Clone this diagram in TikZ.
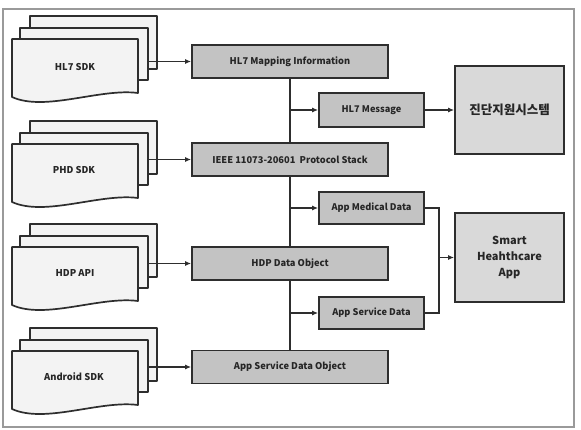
\documentclass[tikz,border=0pt]{standalone}
\usepackage{fontspec}
\setmainfont{Noto Sans CJK KR}
\usetikzlibrary{arrows.meta}
\definecolor{midfill}{HTML}{C3C3C3}
\definecolor{rightfill}{HTML}{D9D9D9}
\definecolor{docfill}{HTML}{F3F3F3}
\definecolor{edge}{HTML}{2E2E2E}
\definecolor{txt}{HTML}{262626}
\definecolor{frame}{HTML}{9A9A9A}
\newcommand\docsheets[1]{%
  \draw[sheet] (30,#1) rectangle (157,#1+53);
  \draw[sheet] (20,#1+12) rectangle (148,#1+64);
  \draw[sheet] (12,#1+23) -- (138,#1+23) -- (138,#1+77)
     .. controls (100,#1+72) and (45,#1+96) .. (12,#1+81) -- cycle;
}
\begin{document}
\begin{tikzpicture}[x=1pt,y=-1pt,
  sheet/.style={draw=edge,line width=1.7pt,fill=docfill,line join=round},
  doctext/.style={text=txt,font=\fontsize{9.4}{11}\selectfont\bfseries},
  midbox/.style={draw=edge,line width=1.7pt,fill=midfill,minimum width=196pt,minimum height=33pt,inner sep=0pt,text=txt,font=\fontsize{9.3}{11}\selectfont\bfseries},
  smallbox/.style={draw=edge,line width=1.7pt,fill=midfill,minimum width=105pt,minimum height=32pt,inner sep=0pt,text=txt,font=\fontsize{9.2}{11}\selectfont\bfseries},
  rightbox/.style={draw=edge,line width=1.7pt,fill=rightfill,minimum width=109pt,minimum height=89pt,inner sep=0pt,text=txt,align=center,font=\fontsize{11}{16}\selectfont\bfseries},
  conn/.style={draw=edge,line width=1.5pt},
  arr/.style={conn,-{Latex[length=6pt,width=5pt]}}]
\useasboundingbox (0,0) rectangle (581,429);
\fill[white] (0,0) rectangle (581,429);
\draw[frame,line width=2pt] (2.5,9) rectangle (574,427);

% documents
\docsheets{16}
\docsheets{121}
\docsheets{224}
\docsheets{328}
\node[doctext] (d1) at (75,67) {HL7 SDK};
\node[doctext] (d2) at (74,170) {PHD SDK};
\node[doctext] (d3) at (75,273) {HDP API};
\node[doctext] (d4) at (74,377) {Android SDK};
\coordinate (e1) at (148,61.5);
\coordinate (e2) at (148,159.5);
\coordinate (e3) at (148,263.5);
\coordinate (e4) at (148,367);

% middle column
\node[midbox] (map) at (290,61.5) {HL7 Mapping Information};
\node[midbox] (ieee) at (290,159.5) {IEEE 11073-20601\ \ Protocol Stack};
\node[midbox] (hdp) at (290,263.5) {HDP Data Object};
\node[midbox] (asdo) at (290,367) {App Service Data Object};

\node[smallbox,minimum height=34pt] (msg) at (371.5,110) {HL7 Message};
\node[smallbox] (med) at (371.5,208) {App Medical Data};
\node[smallbox] (svc) at (371.5,313) {App Service Data};

\node[rightbox,minimum height=88pt,font=\fontsize{12.5}{16}\selectfont\bfseries] (cds) at (509.5,110) {진단지원시스템};
\node[rightbox] (app) at (509.5,257.5) {Smart\\Heahthcare\\App};

% connectors
\draw[arr] (e1) -- (map.west);
\draw[arr] (e2) -- (ieee.west);
\draw[arr] (e3) -- (hdp.west);
\draw[arr] (e4) -- (asdo.west);
\draw[conn] (map.south) -- (ieee.north);
\draw[conn] (ieee.south) -- (hdp.north);
\draw[conn] (hdp.south) -- (asdo.north);
\draw[arr] (map.south |- msg.west) -- (msg.west);
\draw[arr] (map.south |- med.west) -- (med.west);
\draw[arr] (map.south |- svc.west) -- (svc.west);
\draw[arr] (msg.east) -- (cds.west);
\coordinate (j) at (439,257.5);
\draw[conn] (med.east) -| (j |- svc.east) -- (svc.east);
\draw[arr] (j) -- (app.west);
\end{tikzpicture}
\end{document}
